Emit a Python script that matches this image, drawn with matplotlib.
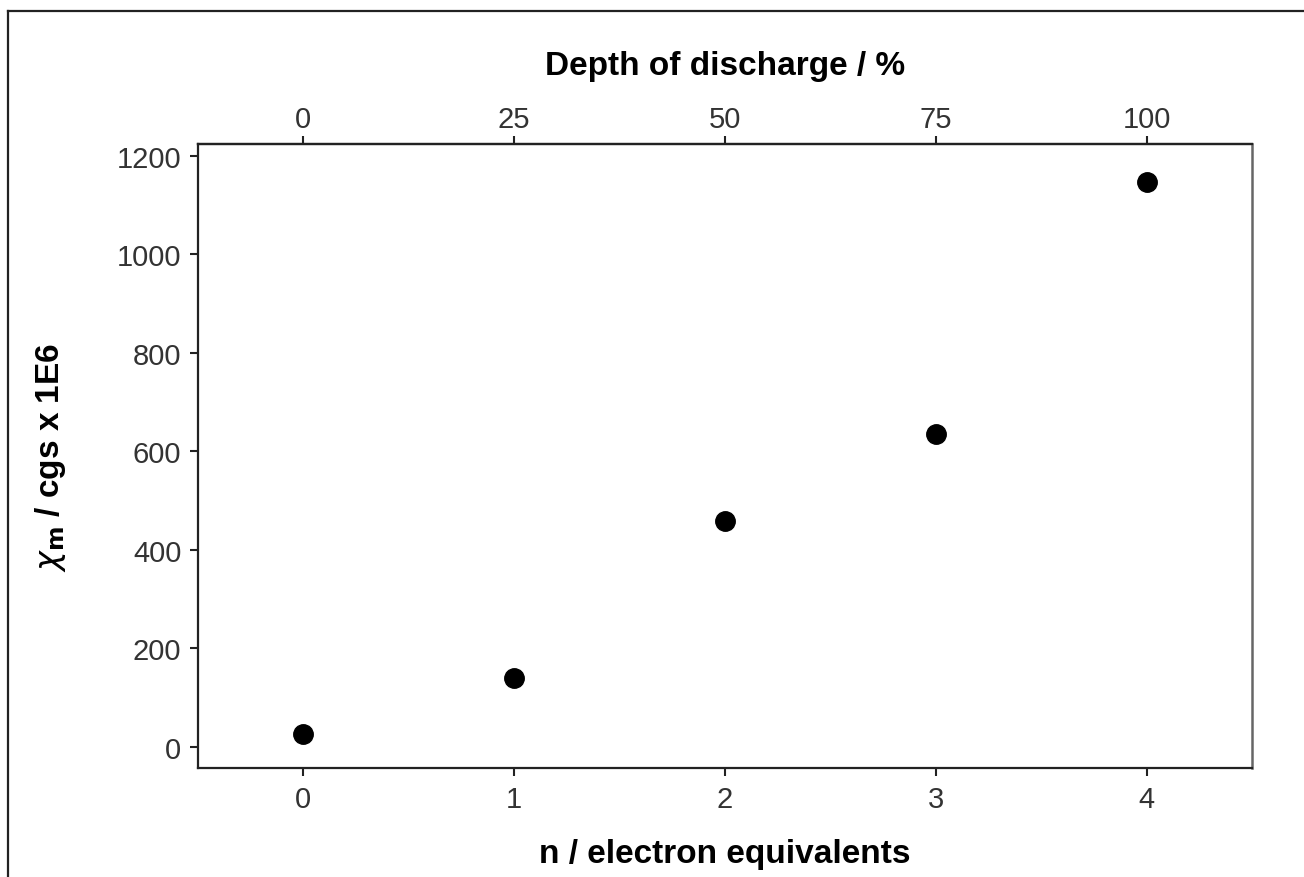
import matplotlib.pyplot as plt
from matplotlib.lines import Line2D

# electron equivalents vs molar susceptibility
n_equiv = [0, 1, 2, 3, 4]
chi_m = [26, 140, 459, 635, 1147]
x_ticks = [0, 1, 2, 3, 4]
y_ticks = [0, 200, 400, 600, 800, 1000, 1200]
dod_ticks = [0, 25, 50, 75, 100]

plt.rcParams['font.family'] = ['Liberation Sans', 'DejaVu Sans']

fig = plt.figure(figsize=(13.04, 8.78), dpi=100)
ax = fig.add_axes([0.1518, 0.1241, 0.8083, 0.7107])

ax.plot(n_equiv, chi_m, 'o', color='black', markersize=14, linestyle='none')

ax.set_xlim(-0.5, 4.5)
ax.set_ylim(-43, 1224)
ax.set_xticks(x_ticks)
ax.set_yticks(y_ticks)
ax.tick_params(direction='out', length=6, width=1.5, labelsize=21, pad=6,
               color='#222222', labelcolor='#333333')

for side in ['left', 'bottom', 'top']:
    ax.spines[side].set_linewidth(1.6)
    ax.spines[side].set_color('#222222')
ax.spines['right'].set_linewidth(1.8)
ax.spines['right'].set_color('#666666')

ax.set_xlabel('n / electron equivalents', fontsize=24, fontweight='bold', labelpad=18)
ax.set_ylabel(r'$\chi_\mathbf{m}$ / cgs x 1E6', fontsize=24, fontweight='bold', labelpad=35)

top = ax.secondary_xaxis('top', functions=(lambda x: x * 25, lambda x: x / 25))
top.set_xticks(dod_ticks)
top.tick_params(direction='out', length=6, width=1.5, labelsize=21, pad=2,
                color='#222222', labelcolor='#333333')
top.spines['top'].set_linewidth(1.6)
top.spines['top'].set_color('#222222')
top.set_xlabel('Depth of discharge / %', fontsize=24, fontweight='bold', labelpad=22)

# outer frame (left and top edges only visible)
fig.add_artist(Line2D([0.0065, 0.0065], [0.0, 0.9863], transform=fig.transFigure,
                      color='#222222', linewidth=1.6))
fig.add_artist(Line2D([0.0065, 1.0], [0.9863, 0.9863], transform=fig.transFigure,
                      color='#222222', linewidth=1.6))

fig.savefig('out.png', dpi=100)
